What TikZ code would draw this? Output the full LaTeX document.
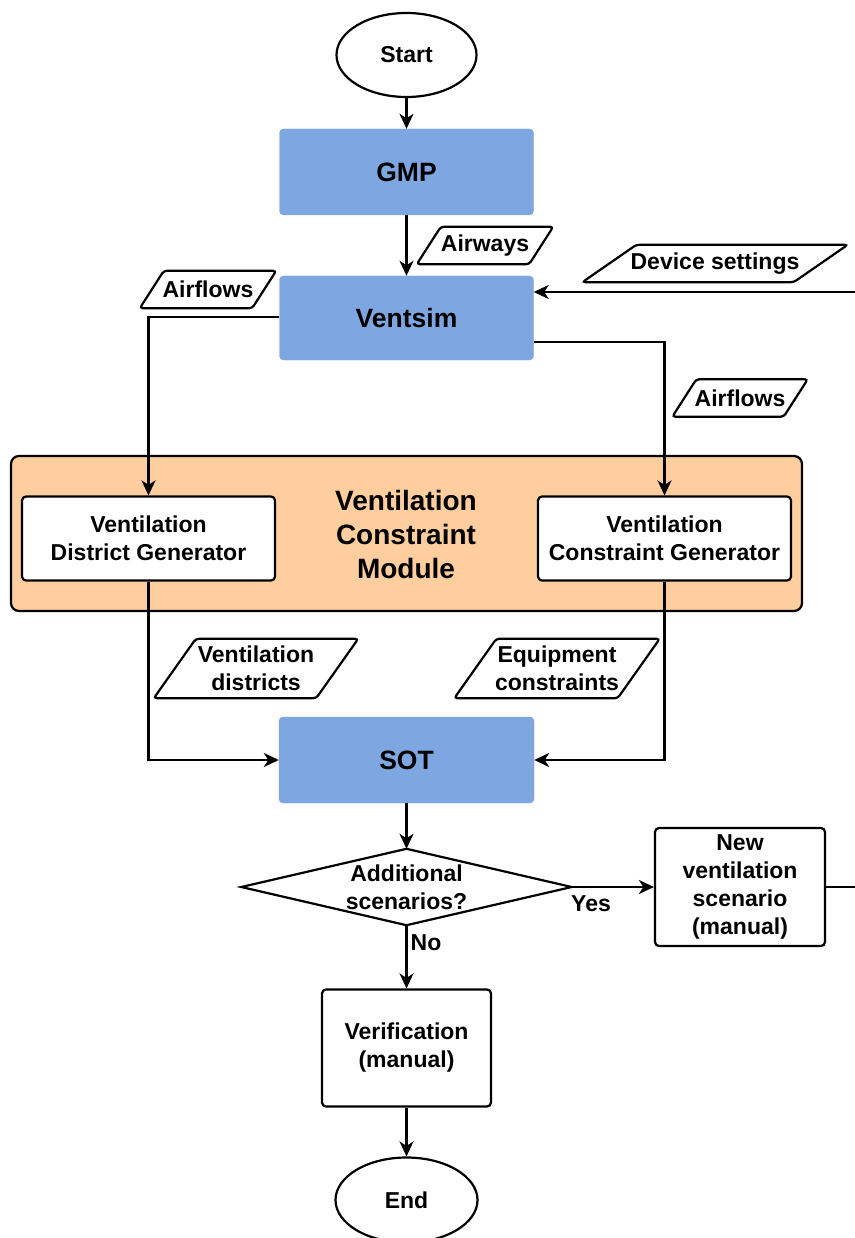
\documentclass[tikz,border=0pt]{standalone}
\usepackage{fontspec}
\setmainfont{Liberation Sans}
\usetikzlibrary{arrows.meta,calc,shapes.geometric}
\definecolor{boxblue}{HTML}{7EA6E0}
\definecolor{modorange}{HTML}{FFCE9F}
\newcommand{\paral}[2]{\draw[pline] (#1.south west) -- ($(#1.north west)+(#2,0)$) -- (#1.north east) -- ($(#1.south east)-(#2,0)$) -- cycle;}
\begin{document}
\begin{tikzpicture}[x=1pt,y=-1pt,
  font=\fontsize{23}{28}\selectfont\bfseries,
  txt/.style={inner sep=0pt, align=center},
  bluebox/.style={txt, fill=boxblue, draw=boxblue, rounded corners=4pt, font=\fontsize{26.5}{32}\selectfont\bfseries},
  whitebox/.style={txt, fill=white, draw=black, line width=2.2pt, rounded corners=4pt},
  paranode/.style={txt},
  pline/.style={draw=black, fill=white, line width=2.2pt, rounded corners=3pt},
  term/.style={txt, ellipse, draw=black, fill=white, line width=2.2pt},
  conn/.style={line width=2.2pt, draw=black},
  arr/.style={conn, -{Stealth[length=15pt,width=14pt,inset=4.5pt]}}
]
\useasboundingbox (0,0) rectangle (854,1238);

% module background
\node[txt, fill=modorange, draw=black, line width=2.2pt, rounded corners=8pt, minimum width=791pt, minimum height=155pt] (module) at (406.5,533.5) {};
\node[txt, font=\fontsize{28}{34}\selectfont\bfseries] (modtitle) at (406,534) {Ventilation\\Constraint\\Module};

\node[term, minimum width=140pt, minimum height=84pt] (start) at (406.5,55) {Start};
\node[bluebox, minimum width=254pt, minimum height=86pt] (gmp) at (406.5,172) {GMP};
\node[bluebox, minimum width=254pt, minimum height=84pt] (vent) at (406.5,318) {Ventsim};

\node[paranode, minimum width=136pt, minimum height=37pt] (airways) at (485,245.5) {};
\paral{airways}{24}
\node[txt] at (airways) {Airways};

\node[paranode, minimum width=136pt, minimum height=37pt] (airflowl) at (208,289.5) {};
\paral{airflowl}{24}
\node[txt] at (airflowl) {Airflows};

\node[paranode, minimum width=265pt, minimum height=37pt] (device) at (715,263.5) {};
\paral{device}{54}
\node[txt] at (device) {Device settings};

\node[paranode, minimum width=135pt, minimum height=37pt] (airflowr) at (740,398) {};
\paral{airflowr}{24}
\node[txt] at (airflowr) {Airflows};

\node[whitebox, minimum width=253pt, minimum height=84pt] (vdg) at (148.5,538.5) {Ventilation\\District Generator};
\node[whitebox, minimum width=253pt, minimum height=84pt] (vcg) at (664.5,538.5) {Ventilation\\Constraint Generator};

\node[paranode, minimum width=204pt, minimum height=59pt] (vd) at (256,668.5) {};
\paral{vd}{42}
\node[txt] at (vd) {Ventilation\\districts};

\node[paranode, minimum width=205pt, minimum height=59pt] (ec) at (557,668.5) {};
\paral{ec}{42}
\node[txt] at (ec) {Equipment\\constraints};

\node[bluebox, minimum width=255pt, minimum height=86pt] (sot) at (406.5,760) {SOT};

\node[txt, minimum width=330pt, minimum height=76pt] (dia) at (406.5,887) {};
\draw[conn, fill=white] (dia.west) -- (dia.north) -- (dia.east) -- (dia.south) -- cycle;
\node[txt] at (dia) {Additional\\scenarios?};

\node[whitebox, minimum width=170pt, minimum height=118pt] (newb) at (740,887) {New\\ventilation\\scenario\\(manual)};
\node[whitebox, minimum width=169pt, minimum height=117pt] (verif) at (406.5,1048) {Verification\\(manual)};
\node[term, minimum width=142pt, minimum height=85pt] (endn) at (406.5,1200) {End};

\node[txt] (yes) at (591,904) {Yes};
\node[txt] (no) at (426,943) {No};

\coordinate (rightin) at (856,292);
\coordinate (rightout) at (856,887);

% connectors
\draw[arr] (start.south) -- (gmp.north);
\draw[arr] (gmp.south) -- (vent.north);
\draw[arr] (rightin) -- (rightin -| vent.east);
\draw[arr] ([yshift=1pt]vent.west) -| (vdg.north);
\draw[arr] ([yshift=-24pt]vent.east) -| (vcg.north);
\draw[arr] (vdg.south) |- (sot.west);
\draw[arr] (vcg.south) |- (sot.east);
\draw[arr] (sot.south) -- (dia.north);
\draw[arr] (dia.east) -- (newb.west);
\draw[conn] (newb.east) -- (rightout);
\draw[arr] (dia.south) -- (verif.north);
\draw[arr] (verif.south) -- (endn.north);
\end{tikzpicture}
\end{document}
